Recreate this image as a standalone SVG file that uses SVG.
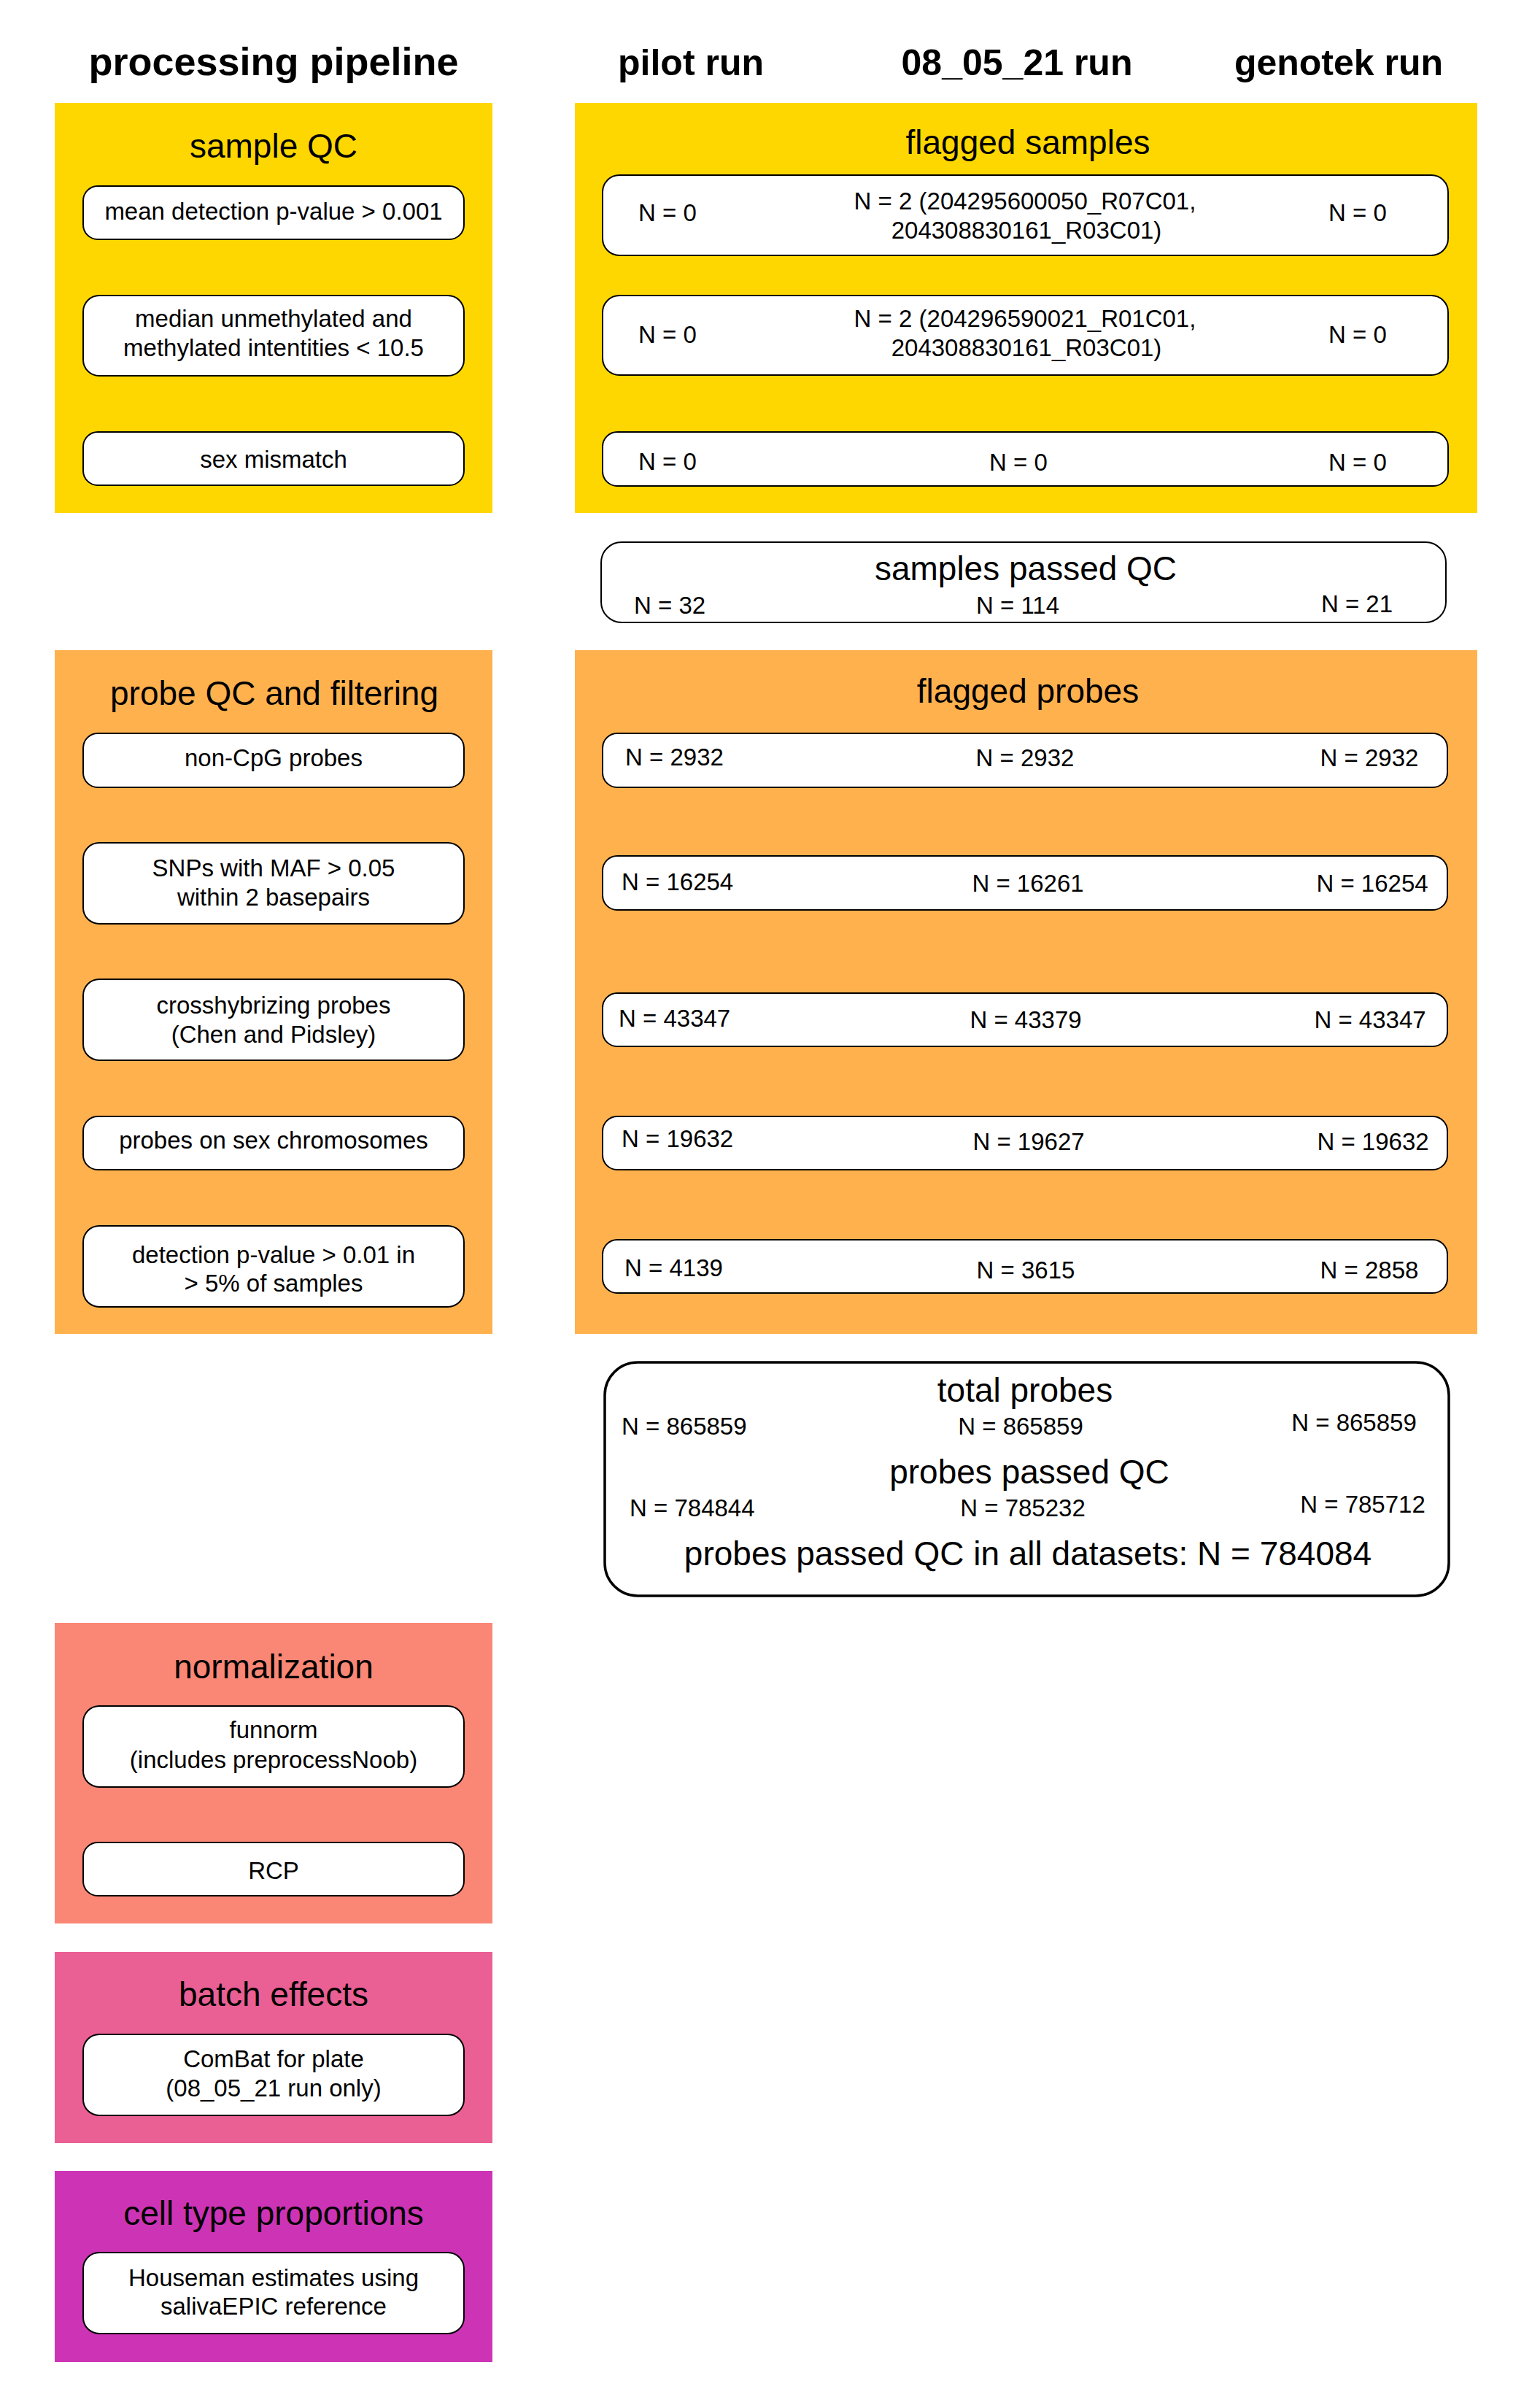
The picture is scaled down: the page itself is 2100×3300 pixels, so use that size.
<svg xmlns="http://www.w3.org/2000/svg" width="2100" height="3300" viewBox="0 0 2100 3300">
<style>
text{font-family:"Liberation Sans",Arial,sans-serif;fill:#000}
.hd{font-size:50px;font-weight:bold;text-anchor:middle}
.hd1{font-size:54px;font-weight:bold;text-anchor:middle}
.tt{font-size:46px;text-anchor:middle}
.t{font-size:33px;text-anchor:middle}
.ts{font-size:33px;text-anchor:start}
.box{fill:#fff;stroke:#000;stroke-width:2}
.big{fill:#fff;stroke:#000;stroke-width:3.5}
.y{fill:#FFD700}.o{fill:#FFB14E}.s{fill:#FA8775}.p{fill:#EA5F94}.m{fill:#CD34B5}
</style>
<rect width="2100" height="3300" fill="#fff"/>
<g id="headers">
<text class="hd1" x="375" y="103">processing pipeline</text>
<text class="hd" x="947" y="103">pilot run</text>
<text class="hd" x="1394" y="103">08_05_21 run</text>
<text class="hd" x="1835" y="103">genotek run</text>
</g>
<g id="connectors"></g>
<g id="sample-qc">
<rect class="y" x="75" y="141" width="600" height="562"/>
<text class="tt" x="375" y="216">sample QC</text>
<rect class="box" x="114" y="255" width="522" height="73" rx="20"/>
<text class="t" x="375" y="301">mean detection p-value &gt; 0.001</text>
<rect class="box" x="114" y="405" width="522" height="110" rx="22"/>
<text class="t" x="375" y="448">median unmethylated and</text>
<text class="t" x="375" y="488">methylated intentities &lt; 10.5</text>
<rect class="box" x="114" y="592" width="522" height="73" rx="20"/>
<text class="t" x="375" y="641">sex mismatch</text>
</g>
<g id="flagged-samples">
<rect class="y" x="788" y="141" width="1237" height="562"/>
<text class="tt" x="1409" y="211">flagged samples</text>
<rect class="box" x="826" y="240" width="1159" height="110" rx="23"/>
<text class="ts" x="875" y="303">N = 0</text>
<text class="t" x="1405" y="287">N = 2 (204295600050_R07C01,</text>
<text class="t" x="1407" y="327">204308830161_R03C01)</text>
<text class="ts" x="1821" y="303">N = 0</text>
<rect class="box" x="826" y="405" width="1159" height="109" rx="23"/>
<text class="ts" x="875" y="470">N = 0</text>
<text class="t" x="1405" y="448">N = 2 (204296590021_R01C01,</text>
<text class="t" x="1407" y="488">204308830161_R03C01)</text>
<text class="ts" x="1821" y="470">N = 0</text>
<rect class="box" x="826" y="592" width="1159" height="74" rx="20"/>
<text class="ts" x="875" y="644">N = 0</text>
<text class="t" x="1396" y="645">N = 0</text>
<text class="ts" x="1821" y="645">N = 0</text>
</g>
<g id="samples-passed">
<rect class="box" x="824" y="743" width="1158" height="110" rx="28"/>
<text class="tt" x="1406" y="795">samples passed QC</text>
<text class="ts" x="869" y="841">N = 32</text>
<text class="t" x="1395" y="841">N = 114</text>
<text class="t" x="1860" y="839">N = 21</text>
</g>
<g id="probe-qc">
<rect class="o" x="75" y="891" width="600" height="937"/>
<text class="tt" x="376" y="966">probe QC and filtering</text>
<rect class="box" x="114" y="1005" width="522" height="74" rx="20"/>
<text class="t" x="375" y="1050">non-CpG probes</text>
<rect class="box" x="114" y="1155" width="522" height="111" rx="22"/>
<text class="t" x="375" y="1201">SNPs with MAF &gt; 0.05</text>
<text class="t" x="375" y="1241">within 2 basepairs</text>
<rect class="box" x="114" y="1342" width="522" height="111" rx="22"/>
<text class="t" x="375" y="1389">crosshybrizing probes</text>
<text class="t" x="375" y="1429">(Chen and Pidsley)</text>
<rect class="box" x="114" y="1530" width="522" height="73" rx="20"/>
<text class="t" x="375" y="1574">probes on sex chromosomes</text>
<rect class="box" x="114" y="1680" width="522" height="111" rx="22"/>
<text class="t" x="375" y="1731">detection p-value &gt; 0.01 in</text>
<text class="t" x="375" y="1770">&gt; 5% of samples</text>
</g>
<g id="flagged-probes">
<rect class="o" x="788" y="891" width="1237" height="937"/>
<text class="tt" x="1409" y="963">flagged probes</text>
<rect class="box" x="826" y="1005" width="1158" height="74" rx="20"/>
<text class="ts" x="857" y="1049">N = 2932</text>
<text class="t" x="1405" y="1050">N = 2932</text>
<text class="t" x="1877" y="1050">N = 2932</text>
<rect class="box" x="826" y="1173" width="1158" height="74" rx="20"/>
<text class="ts" x="852" y="1220">N = 16254</text>
<text class="t" x="1409" y="1222">N = 16261</text>
<text class="t" x="1881" y="1222">N = 16254</text>
<rect class="box" x="826" y="1361" width="1158" height="73" rx="20"/>
<text class="ts" x="848" y="1407">N = 43347</text>
<text class="t" x="1406" y="1409">N = 43379</text>
<text class="t" x="1878" y="1409">N = 43347</text>
<rect class="box" x="826" y="1530" width="1158" height="73" rx="20"/>
<text class="ts" x="852" y="1572">N = 19632</text>
<text class="t" x="1410" y="1576">N = 19627</text>
<text class="t" x="1882" y="1576">N = 19632</text>
<rect class="box" x="826" y="1699" width="1158" height="73" rx="20"/>
<text class="ts" x="856" y="1749">N = 4139</text>
<text class="t" x="1406" y="1752">N = 3615</text>
<text class="t" x="1877" y="1752">N = 2858</text>
</g>
<g id="totals">
<rect class="big" x="829" y="1867" width="1157" height="320" rx="45"/>
<text class="tt" x="1405" y="1921">total probes</text>
<text class="ts" x="852" y="1966">N = 865859</text>
<text class="t" x="1399" y="1966">N = 865859</text>
<text class="t" x="1856" y="1961">N = 865859</text>
<text class="tt" x="1411" y="2033">probes passed QC</text>
<text class="ts" x="863" y="2078">N = 784844</text>
<text class="t" x="1402" y="2078">N = 785232</text>
<text class="t" x="1868" y="2073">N = 785712</text>
<text class="tt" x="1409" y="2145">probes passed QC in all datasets: N = 784084</text>
</g>
<g id="normalization">
<rect class="s" x="75" y="2224" width="600" height="412"/>
<text class="tt" x="375" y="2300">normalization</text>
<rect class="box" x="114" y="2338" width="522" height="111" rx="22"/>
<text class="t" x="375" y="2382">funnorm</text>
<text class="t" x="375" y="2423">(includes preprocessNoob)</text>
<rect class="box" x="114" y="2525" width="522" height="73" rx="20"/>
<text class="t" x="375" y="2575">RCP</text>
</g>
<g id="batch-effects">
<rect class="p" x="75" y="2675" width="600" height="262"/>
<text class="tt" x="375" y="2749">batch effects</text>
<rect class="box" x="114" y="2788" width="522" height="111" rx="22"/>
<text class="t" x="375" y="2833">ComBat for plate</text>
<text class="t" x="375" y="2873">(08_05_21 run only)</text>
</g>
<g id="cell-type">
<rect class="m" x="75" y="2975" width="600" height="262"/>
<text class="tt" x="375" y="3049">cell type proportions</text>
<rect class="box" x="114" y="3087" width="522" height="111" rx="22"/>
<text class="t" x="375" y="3133">Houseman estimates using</text>
<text class="t" x="375" y="3172">salivaEPIC reference</text>
</g>
</svg>
